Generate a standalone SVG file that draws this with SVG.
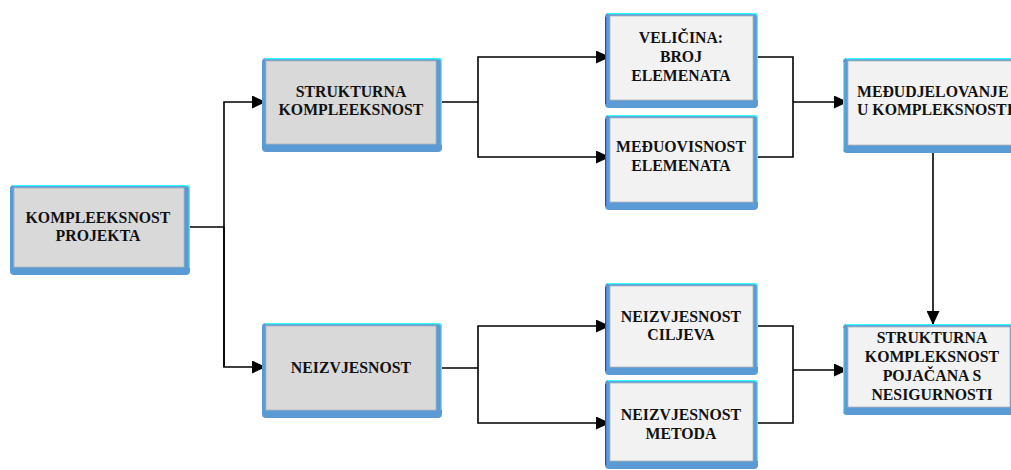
<svg xmlns="http://www.w3.org/2000/svg" width="1011" height="470" viewBox="0 0 1011 470">
<style>
.frame{fill:#5b9bd5}
.hi{fill:none;stroke:#33ffff;stroke-width:1.2}
.lo{fill:none;stroke:#2a3cff;stroke-width:1.2}
.in1{fill:#d9d9d9;stroke:#b4b4b4;stroke-width:0.8}
.in2{fill:#f2f2f2;stroke:#b4b4b4;stroke-width:0.8}
text{font-family:"Liberation Serif","Times New Roman",serif;font-weight:bold;font-size:15.8px;fill:#111;text-anchor:middle}
.c{fill:none;stroke:#000;stroke-width:1.6}
</style>
<defs>
<marker id="ah" markerUnits="userSpaceOnUse" markerWidth="14" markerHeight="13" refX="14" refY="6.5" orient="auto">
<path d="M0,0 L14,6.5 L0,13 Z" fill="#000"/>
</marker>
</defs>
<rect width="1011" height="470" fill="#fff"/>

<g id="connectors">
<polyline class="c" points="188,227 224,227"/>
<polyline class="c" points="224,367 224,102 266,102" marker-end="url(#ah)"/>
<polyline class="c" points="224,227 224,367 266,367" marker-end="url(#ah)"/>
<polyline class="c" points="440,102 478,102"/>
<polyline class="c" points="478,102 478,57 610,57" marker-end="url(#ah)"/>
<polyline class="c" points="478,102 478,157 610,157" marker-end="url(#ah)"/>
<polyline class="c" points="754,57 793,57 793,157 754,157"/>
<polyline class="c" points="793,102 848,102" marker-end="url(#ah)"/>
<polyline class="c" points="933,150 933,325" marker-end="url(#ah)"/>
<polyline class="c" points="440,368 478,368"/>
<polyline class="c" points="478,368 478,326 610,326" marker-end="url(#ah)"/>
<polyline class="c" points="478,368 478,423 610,423" marker-end="url(#ah)"/>
<polyline class="c" points="754,326 793,326 793,423 754,423"/>
<polyline class="c" points="793,370 848,370" marker-end="url(#ah)"/>
</g>

<g id="kompleeksnost-projekta">
<rect class="frame" x="10" y="185" width="180" height="90" rx="4"/>
<path class="hi" d="M13,185.6 H186 Q189.4,185.6 189.4,189 V268"/>
<rect class="in1" x="14" y="188" width="170" height="79"/>
<text x="98" y="223">KOMPLEEKSNOST</text>
<text x="98" y="241">PROJEKTA</text>
</g>

<g id="strukturna-kompleeksnost">
<rect class="frame" x="262" y="58" width="180" height="94" rx="4"/>
<path class="hi" d="M265,58.6 H438 Q441.4,58.6 441.4,62 V145"/>
<rect class="in1" x="266" y="61" width="170" height="83"/>
<text x="351" y="97">STRUKTURNA</text>
<text x="351" y="115">KOMPLEEKSNOST</text>
</g>

<g id="neizvjesnost">
<rect class="frame" x="262" y="323" width="180" height="95" rx="4"/>
<path class="hi" d="M265,323.6 H438 Q441.4,323.6 441.4,327 V410"/>
<rect class="in1" x="266" y="326" width="170" height="84"/>
<text x="351" y="373">NEIZVJESNOST</text>
</g>

<g id="velicina-broj-elemenata">
<rect class="frame" x="605" y="13" width="153" height="95" rx="4"/>
<path class="hi" d="M608,13.6 H754 Q757.4,13.6 757.4,17 V100"/>
<path class="lo" d="M605.6,17 V104"/>
<rect class="in2" x="610" y="16" width="143" height="84"/>
<text x="681" y="43">VELIČINA:</text>
<text x="681" y="62">BROJ</text>
<text x="681" y="81">ELEMENATA</text>
</g>

<g id="meduovisnost-elemenata">
<rect class="frame" x="605" y="115" width="153" height="95" rx="4"/>
<path class="hi" d="M608,115.6 H754 Q757.4,115.6 757.4,119 V202"/>
<path class="lo" d="M605.6,119 V206"/>
<rect class="in2" x="610" y="118" width="143" height="84"/>
<text x="681" y="152">MEĐUOVISNOST</text>
<text x="681" y="171">ELEMENATA</text>
</g>

<g id="neizvjesnost-ciljeva">
<rect class="frame" x="605" y="283" width="153" height="92" rx="4"/>
<path class="hi" d="M608,283.6 H754 Q757.4,283.6 757.4,287 V367"/>
<path class="lo" d="M605.6,287 V371"/>
<rect class="in2" x="610" y="286" width="143" height="81"/>
<text x="681" y="322">NEIZVJESNOST</text>
<text x="681" y="340">CILJEVA</text>
</g>

<g id="neizvjesnost-metoda">
<rect class="frame" x="605" y="380" width="153" height="89" rx="4"/>
<path class="hi" d="M608,380.6 H754 Q757.4,380.6 757.4,384 V461"/>
<path class="lo" d="M605.6,384 V465"/>
<rect class="in2" x="610" y="383" width="143" height="78"/>
<text x="681" y="420">NEIZVJESNOST</text>
<text x="681" y="439">METODA</text>
</g>

<g id="medudjelovanje-u-kompleksnosti">
<rect class="frame" x="843" y="58" width="185" height="95" rx="4"/>
<path class="hi" d="M846,58.6 H1024 M843.6,62 V150"/>
<rect class="in2" x="848" y="61" width="175" height="84"/>
<text x="857" y="97" style="text-anchor:start">MEĐUDJELOVANJE</text>
<text x="857" y="115" style="text-anchor:start">U KOMPLEKSNOSTI</text>
</g>

<g id="strukturna-kompleksnost-pojacana">
<rect class="frame" x="843" y="324" width="172" height="91" rx="4"/>
<path class="hi" d="M846,324.6 H1012 M843.6,328 V412"/>
<rect class="in2" x="848" y="327" width="162" height="80"/>
<text x="932" y="343">STRUKTURNA</text>
<text x="932" y="362">KOMPLEKSNOST</text>
<text x="932" y="381">POJAČANA S</text>
<text x="932" y="400">NESIGURNOSTI</text>
</g>
</svg>
